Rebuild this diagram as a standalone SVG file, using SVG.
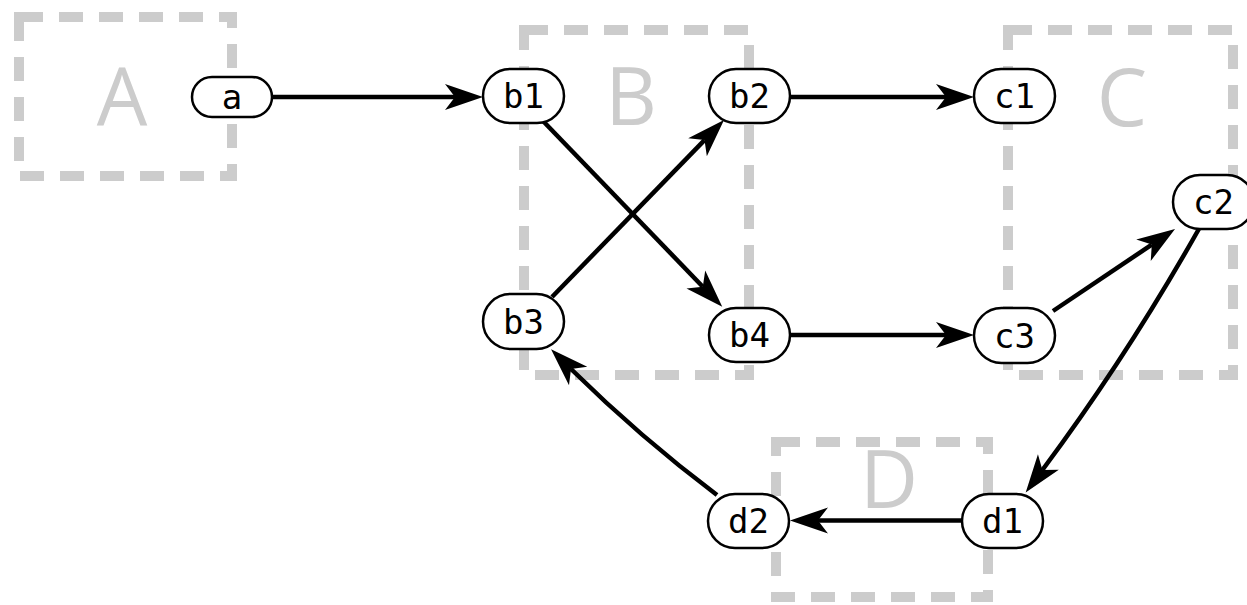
<svg xmlns="http://www.w3.org/2000/svg" width="1247" height="605" viewBox="0 0 1247 605">
  <style>
    .cluster { fill: none; stroke: #cccccc; stroke-width: 10; stroke-dasharray: 24 16; }
    .cluster-label { fill: #cccccc; font-family: "Open Sans", "DejaVu Sans", sans-serif; font-size: 80px; text-anchor: middle; }
    .node rect { fill: #ffffff; stroke: #000000; stroke-width: 2.5; }
    .node text { fill: #000000; font-family: "DejaVu Sans Mono", "Liberation Mono", monospace; font-size: 34px; text-anchor: middle; dominant-baseline: central; }
    .edge { fill: none; stroke: #000000; stroke-width: 4.5; marker-end: url(#arrow); }
  </style>
  <defs>
    <!-- swept-back arrowhead; origin sits at the notch, tip points 28px ahead -->
    <marker id="arrow" markerUnits="userSpaceOnUse" viewBox="-12 -14 42 28" refX="0" refY="0" markerWidth="42" markerHeight="28" orient="auto" overflow="visible">
      <path d="M28,0 L-10,-13 L0,0 L-10,13 Z" fill="#000000"/>
    </marker>
  </defs>

  <!-- clusters -->
  <g id="cluster-A">
    <rect class="cluster" x="19" y="17" width="213" height="159"/>
    <text class="cluster-label" x="122" y="125">A</text>
  </g>
  <g id="cluster-B">
    <rect class="cluster" x="524" y="30" width="225" height="345"/>
    <text class="cluster-label" x="631" y="125">B</text>
  </g>
  <g id="cluster-C">
    <rect class="cluster" x="1008" y="30" width="225" height="345"/>
    <text class="cluster-label" x="1122" y="126">C</text>
  </g>
  <g id="cluster-D">
    <rect class="cluster" x="776" y="442" width="212" height="155"/>
    <text class="cluster-label" x="889" y="508">D</text>
  </g>

  <!-- connectors -->
  <g id="edges">
    <path class="edge" d="M272,97 L455,97"/>
    <path class="edge" d="M543,121 L702.8,286.7"/>
    <path class="edge" d="M552,297 L704.5,140.1"/>
    <path class="edge" d="M790,97 L946,97"/>
    <path class="edge" d="M790,335 L946,335"/>
    <path class="edge" d="M1053,311 L1151.8,244.6"/>
    <path class="edge" d="M1200,227 Q1128,355 1042.4,470"/>
    <path class="edge" d="M962,520.5 L818,520.5"/>
    <path class="edge" d="M717,495 Q640,437 571,369"/>
  </g>

  <!-- nodes -->
  <g id="a" class="node"><rect x="192" y="77" width="80" height="40" rx="20"/><text x="232" y="97">a</text></g>
  <g id="b1" class="node"><rect x="483" y="69" width="81" height="54" rx="27"/><text x="523.5" y="96">b1</text></g>
  <g id="b2" class="node"><rect x="709" y="69" width="81" height="54" rx="27"/><text x="749.5" y="96">b2</text></g>
  <g id="b3" class="node"><rect x="483" y="294" width="81" height="55" rx="27.5"/><text x="523.5" y="321.5">b3</text></g>
  <g id="b4" class="node"><rect x="709" y="308" width="81" height="54" rx="27"/><text x="749.5" y="335">b4</text></g>
  <g id="c1" class="node"><rect x="974" y="69" width="81" height="54" rx="27"/><text x="1014.5" y="96">c1</text></g>
  <g id="c2" class="node"><rect x="1173" y="175" width="81" height="54" rx="27"/><text x="1213.5" y="202">c2</text></g>
  <g id="c3" class="node"><rect x="974" y="308" width="81" height="55" rx="27.5"/><text x="1014.5" y="335.5">c3</text></g>
  <g id="d1" class="node"><rect x="962" y="494" width="81" height="54" rx="27"/><text x="1002.5" y="521">d1</text></g>
  <g id="d2" class="node"><rect x="708" y="494" width="81" height="54" rx="27"/><text x="748.5" y="521">d2</text></g>
</svg>
